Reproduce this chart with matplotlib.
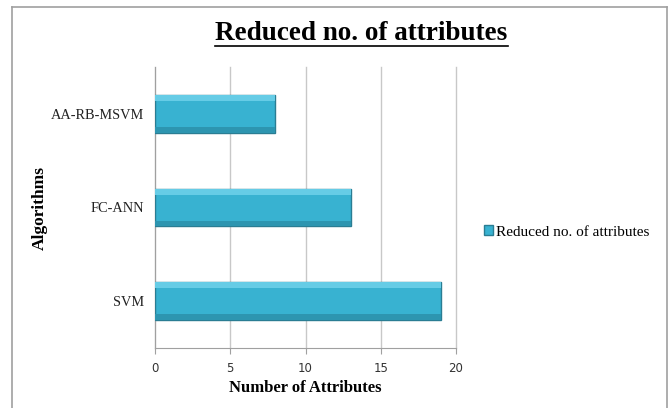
import matplotlib
matplotlib.use("Agg")
import matplotlib.pyplot as plt
from matplotlib.patches import Rectangle
from matplotlib.lines import Line2D

categories = ["SVM", "FC-ANN", "AA-RB-MSVM"]
values = [19, 13, 8]
series_name = "Reduced no. of attributes"
xticks = [0, 5, 10, 15, 20]

W, H = 670, 408
fig = plt.figure(figsize=(W / 100, H / 100), dpi=100)
fig.patch.set_facecolor("white")

# outer chart border
fig.add_artist(Line2D([12 / W, 12 / W], [0, 1 - 7 / H], color="#a0a0a0", lw=1.2, transform=fig.transFigure))
fig.add_artist(Line2D([12 / W, 667 / W], [1 - 7 / H, 1 - 7 / H], color="#a0a0a0", lw=1.2, transform=fig.transFigure))
fig.add_artist(Line2D([667 / W, 667 / W], [0, 1 - 7 / H], color="#a0a0a0", lw=1.2, transform=fig.transFigure))

ax = fig.add_axes([155 / W, 1 - 348 / H, (456 - 155) / W, (348 - 67) / H])
ypos = list(range(len(categories)))
bars = ax.barh(ypos, values, height=0.4, color="#38b2d1", edgecolor="#2a7d93", linewidth=1.0,
               label=series_name, zorder=3)
# bevel highlight on bars
for b in bars:
    x0, y0 = b.get_x(), b.get_y()
    w, h = b.get_width(), b.get_height()
    ax.add_patch(Rectangle((x0, y0 + h * 0.84), w, h * 0.16, facecolor="#66cce6", edgecolor="none", zorder=4))
    ax.add_patch(Rectangle((x0, y0), w, h * 0.15, facecolor="#2d95b0", edgecolor="none", zorder=4))

ax.set_xlim(0, 20)
ax.set_ylim(-0.5, len(categories) - 0.5)
ax.set_xticks(xticks)
ax.set_xticklabels([str(t) for t in xticks], fontfamily="DejaVu Sans", fontsize=8.5, color="#333333")
ax.set_yticks(ypos)
ax.set_yticklabels(categories, fontfamily="Liberation Serif", fontsize=10.4, color="#222222")
ax.tick_params(axis="y", length=0, pad=8)
ax.tick_params(axis="x", length=4, color="#a0a0a0", pad=6)
ax.grid(axis="x", color="#c8c8c8", lw=1.0, zorder=0)
for gl in ax.get_xgridlines():
    gl.set_clip_on(False)
for s in ["top", "right"]:
    ax.spines[s].set_visible(False)
for s in ["left", "bottom"]:
    ax.spines[s].set_color("#a0a0a0")

ax.set_xlabel("Number of Attributes", fontfamily="Liberation Serif", fontweight="bold", fontsize=12)
ax.xaxis.set_label_coords((305 - 155) / 301, (348 - 380) / 281)
ax.set_ylabel("Algorithms", fontfamily="Liberation Serif", fontweight="bold", fontsize=12.5)
ax.yaxis.set_label_coords((48 - 155) / 301, 0.5)

fig.text(361 / W, 1 - 33 / H, "Reduced no. of attributes", ha="center", va="center",
         fontfamily="Liberation Serif", fontweight="bold", fontsize=19.5)
fig.add_artist(Line2D([215 / W, 508 / W], [1 - 46 / H, 1 - 46 / H], color="black", lw=1.2, transform=fig.transFigure))

leg = fig.legend(handles=[bars], labels=[series_name], loc="center left",
                 bbox_to_anchor=(470 / W, 1 - 232 / H), frameon=False,
                 prop={"family": "Liberation Serif", "size": 11}, handlelength=0.6, handleheight=0.6,
                 handletextpad=0.2)

fig.savefig("out.png", dpi=100)
